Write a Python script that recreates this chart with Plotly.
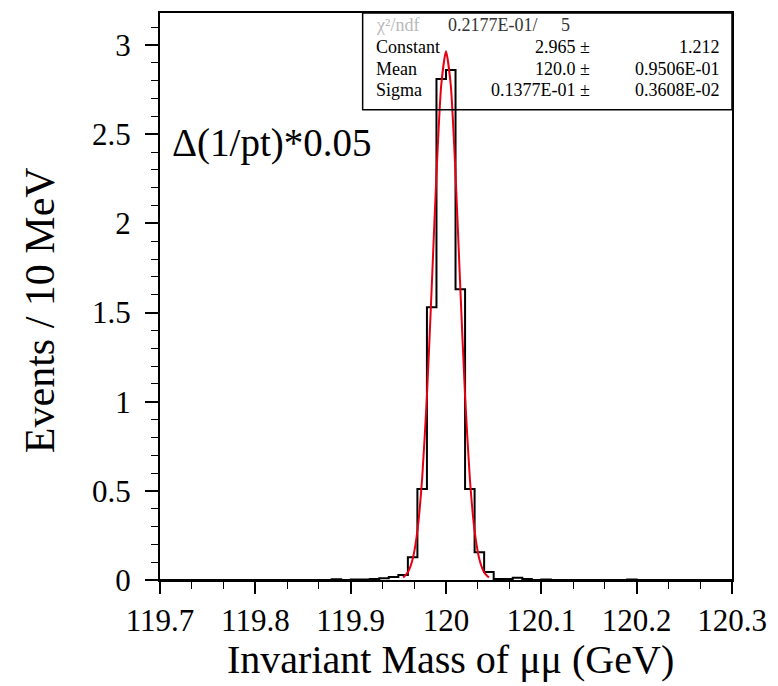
import plotly.graph_objects as go

# ---------------- data ----------------
# histogram: left edges of 10 MeV bins (GeV) and bin contents
bin_left = [119.88, 119.89, 119.90, 119.91, 119.92, 119.93, 119.94, 119.95,
            119.96, 119.97, 119.98, 119.99, 120.00, 120.01, 120.02, 120.03,
            120.04, 120.05, 120.06, 120.07, 120.08, 120.09, 120.10, 120.11,
            120.12, 120.13, 120.14, 120.15, 120.16, 120.17, 120.18, 120.19]
counts = [0.004, 0.0, 0.003, 0.003, 0.006, 0.010, 0.017, 0.028,
          0.127, 0.51, 1.53, 2.81, 2.86, 1.63, 0.51, 0.155,
          0.045, 0.006, 0.006, 0.013, 0.006, 0.0, 0.003, 0.0,
          0.0, 0.0, 0.0, 0.0, 0.0, 0.0, 0.0, 0.003]
bin_width = 0.01

# fitted gaussian curve
fit_x = [119.955, 119.960, 119.965, 119.970, 119.975, 119.980, 119.985, 119.990,
         119.995, 120.000, 120.005, 120.010, 120.015, 120.020, 120.025, 120.030,
         120.035, 120.040, 120.045]
fit_y = [0.014, 0.044, 0.117, 0.276, 0.571, 1.033, 1.639, 2.277,
         2.776, 2.965, 2.776, 2.277, 1.639, 1.033, 0.571, 0.276,
         0.117, 0.044, 0.014]

x_range = [119.7, 120.3]
y_range = [0.0, 3.18]
x_ticks = [119.7, 119.8, 119.9, 120.0, 120.1, 120.2, 120.3]
x_ticklabels = ["119.7", "119.8", "119.9", "120", "120.1", "120.2", "120.3"]
y_ticks = [0, 0.5, 1, 1.5, 2, 2.5, 3]
y_ticklabels = ["0", "0.5", "1", "1.5", "2", "2.5", "3"]

stat_labels = ["Constant", "Mean", "Sigma"]
stat_values = ["2.965 \u00b1", "120.0 \u00b1", "0.1377E-01 \u00b1"]
stat_errors = ["1.212", "0.9506E-01", "0.3608E-02"]
chi2_label = "\u03c7\u00b2/ndf"
chi2_value = "0.2177E-01/"
ndf_value = "5"

# ---------------- build histogram outline ----------------
hx = [x_range[0], bin_left[0]]
hy = [0.0, 0.0]
for xl, c in zip(bin_left, counts):
    hx.append(xl)
    hy.append(c)
hx.append(bin_left[-1] + bin_width)
hy.append(0.0)
hx.append(x_range[1])
hy.append(0.0)

FONT = "Liberation Serif"

fig = go.Figure()
fig.add_trace(go.Scatter(x=hx, y=hy, mode="lines", line=dict(color="black", width=2, shape="hv"),
                         hoverinfo="skip", showlegend=False))
fig.add_trace(go.Scatter(x=fit_x, y=fit_y, mode="lines",
                         line=dict(color="#e60012", width=2, shape="spline", smoothing=0.6),
                         hoverinfo="skip", showlegend=False))

# plot area in pixels
L, R, T, B = 160, 733, 11, 580
W, H = 778, 686


def px(xp):
    return (xp - L) / (R - L)


def py(yp):
    return (B - yp) / (B - T)


SF = 18
annotations = []
# stats box text
row_y = [45, 67, 88]
annotations.append(dict(x=px(374), y=py(23), xref="paper", yref="paper", text=chi2_label,
                        showarrow=False, xanchor="left", yanchor="middle",
                        font=dict(family=FONT, size=SF, color="#b8b8b8")))
annotations.append(dict(x=px(446), y=py(23), xref="paper", yref="paper", text=chi2_value,
                        showarrow=False, xanchor="left", yanchor="middle",
                        font=dict(family=FONT, size=SF, color="#333333")))
annotations.append(dict(x=px(573), y=py(23), xref="paper", yref="paper", text=ndf_value,
                        showarrow=False, xanchor="right", yanchor="middle",
                        font=dict(family=FONT, size=SF, color="#333333")))
for lab, val, err, yy in zip(stat_labels, stat_values, stat_errors, row_y):
    annotations.append(dict(x=px(374), y=py(yy), xref="paper", yref="paper", text=lab,
                            showarrow=False, xanchor="left", yanchor="middle",
                            font=dict(family=FONT, size=SF, color="black")))
    annotations.append(dict(x=px(593), y=py(yy), xref="paper", yref="paper", text=val,
                            showarrow=False, xanchor="right", yanchor="middle",
                            font=dict(family=FONT, size=SF, color="black")))
    annotations.append(dict(x=px(723), y=py(yy), xref="paper", yref="paper", text=err,
                            showarrow=False, xanchor="right", yanchor="middle",
                            font=dict(family=FONT, size=SF, color="black")))

# label inside plot
annotations.append(dict(x=px(170), y=py(141), xref="paper", yref="paper", text="\u0394(1/pt)*0.05",
                        showarrow=False, xanchor="left", yanchor="middle",
                        font=dict(family=FONT, size=39, color="black")))
# axis titles
annotations.append(dict(x=px(40), y=py(309), xref="paper", yref="paper", text="Events / 10 MeV",
                        showarrow=False, xanchor="center", yanchor="middle", textangle=-90,
                        font=dict(family=FONT, size=42, color="black")))
annotations.append(dict(x=px(451), y=py(660), xref="paper", yref="paper",
                        text="Invariant Mass of \u03bc\u03bc (GeV)",
                        showarrow=False, xanchor="center", yanchor="middle",
                        font=dict(family=FONT, size=40, color="black")))

shapes = [dict(type="rect", xref="paper", yref="paper", x0=px(363), x1=1.0, y0=py(108), y1=1.0,
               line=dict(color="black", width=1.5), fillcolor="rgba(0,0,0,0)", layer="above")]

fig.update_layout(
    width=W, height=H,
    margin=dict(l=L, r=W - R, t=T, b=H - B, pad=0),
    paper_bgcolor="white", plot_bgcolor="white",
    annotations=annotations, shapes=shapes,
    font=dict(family=FONT, color="black"),
)
fig.update_xaxes(range=x_range, tickmode="array", tickvals=x_ticks, ticktext=x_ticklabels,
                 showgrid=False, zeroline=False, showline=True, linecolor="black", linewidth=2,
                 mirror=True, ticks="outside", ticklen=12, tickwidth=1.5, tickcolor="black",
                 tickfont=dict(family=FONT, size=31, color="black"),
                 minor=dict(tickmode="linear", tick0=119.7, dtick=0.1 / 3, ticks="outside",
                            ticklen=7, tickwidth=1.2, tickcolor="black", showgrid=False))
fig.update_yaxes(range=y_range, tickmode="array", tickvals=y_ticks, ticktext=y_ticklabels,
                 showgrid=False, zeroline=False, showline=True, linecolor="black", linewidth=2,
                 mirror=True, ticks="outside", ticklen=13, tickwidth=1.5, tickcolor="black",
                 tickfont=dict(family=FONT, size=31, color="black"), ticklabelstandoff=8,
                 minor=dict(tickmode="linear", tick0=0, dtick=0.1, ticks="outside",
                            ticklen=7, tickwidth=1.2, tickcolor="black", showgrid=False))

fig.write_html("out.html")
